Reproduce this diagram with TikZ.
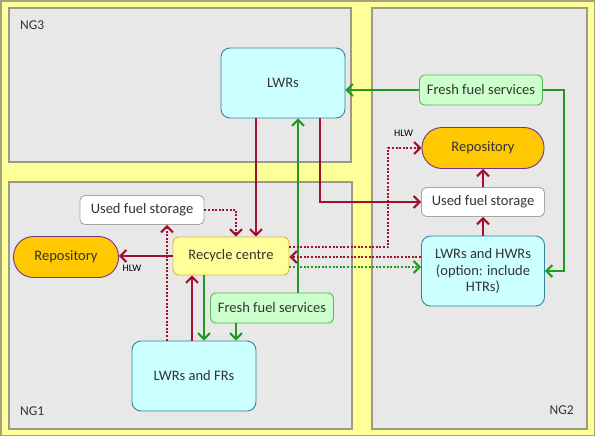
\documentclass[tikz,border=0pt]{standalone}
\usepackage{fontspec}
\setmainfont{Carlito}
\usetikzlibrary{arrows.meta}
\definecolor{yel}{HTML}{FFFF99}
\definecolor{yelbd}{HTML}{A3A37A}
\definecolor{regfill}{HTML}{E8E8E8}
\definecolor{regbd}{HTML}{9C9C84}
\definecolor{cyanfill}{HTML}{CCFFFF}
\definecolor{cyanbd}{HTML}{31849B}
\definecolor{grfill}{HTML}{CCFFCC}
\definecolor{grbd}{HTML}{55B855}
\definecolor{rcbd}{HTML}{E0B63A}
\definecolor{repfill}{HTML}{FFC800}
\definecolor{repbd}{HTML}{7A3090}
\definecolor{ufsbd}{HTML}{A6A6A6}
\definecolor{darkred}{HTML}{A3102E}
\definecolor{flowgreen}{HTML}{229A22}
\definecolor{txt}{HTML}{333333}
\tikzset{
  every node/.style={text=txt, font=\fontsize{14.5}{16.5}\selectfont, inner sep=0pt, align=center},
  region/.style={draw=regbd, fill=regfill, line width=1.3pt},
  reactor/.style={draw=cyanbd, fill=cyanfill, line width=0.9pt, rounded corners=9pt, minimum width=124pt, minimum height=70pt},
  freshbox/.style={draw=grbd, fill=grfill, line width=0.9pt, rounded corners=5pt, minimum width=123pt, minimum height=30pt},
  storebox/.style={draw=ufsbd, fill=white, line width=0.9pt, rounded corners=5pt, minimum width=124pt, minimum height=29pt},
  recbox/.style={draw=rcbd, fill=yel, line width=0.9pt, rounded corners=5pt, minimum width=116pt, minimum height=38pt},
  repbox/.style={draw=repbd, fill=repfill, line width=0.9pt, rounded corners=20pt, minimum height=41pt},
  regionlabel/.style={font=\fontsize{13.5}{15}\selectfont},
  hlw/.style={font=\fontsize{10}{12}\selectfont, text=black},
  redflow/.style={draw=darkred, line width=2pt, -{Straight Barb[length=6pt,width=12pt,line width=2pt]}},
  greenflow/.style={draw=flowgreen, line width=2pt, -{Straight Barb[length=6pt,width=12pt,line width=2pt]}},
  dotted flow/.style={dash pattern=on 2pt off 1.6pt},
}
\begin{document}
\begin{tikzpicture}[x=1pt,y=-1pt]
\useasboundingbox (0,0) rectangle (596,437);
% background
\draw[draw=yelbd, fill=yel, line width=1.2pt] (1,1) rectangle (594.5,435.5);
% regions
\draw[region] (9,8) rectangle (351,162);
\draw[region] (9,182) rectangle (352,429);
\draw[region] (372,8) rectangle (587,429);
\node[regionlabel, anchor=west] (ng3) at (20,25) {NG3};
\node[regionlabel, anchor=west] (ng1) at (20,411) {NG1};
\node[regionlabel, anchor=east] (ng2) at (574,410) {NG2};

% nodes
\node[reactor] (lwr) at (283,83) {LWRs};
\node[freshbox] (ffs2) at (481,90) {Fresh fuel services};
\node[repbox, minimum width=122pt] (rep2) at (483,148) {Repository};
\node[storebox, minimum width=123pt] (ufs2) at (483,202) {Used fuel storage};
\node[reactor, minimum width=123pt] (hwr) at (483,271) {LWRs and HWRs\\(option: include\\HTRs)};
\node[storebox] (ufs1) at (142,210) {Used fuel storage};
\node[repbox, minimum width=105pt] (rep1) at (66,257) {Repository};
\node[recbox] (rc) at (231,256) {Recycle centre};
\node[freshbox] (ffs1) at (272,308) {Fresh fuel services};
\node[reactor] (fr) at (194,376) {LWRs and FRs};

% NG3 / NG2 flows
\draw[greenflow] (ffs2.west) -- (ffs2.west -| lwr.east);
\draw[greenflow] (ffs2.east) -- ++(21,0) |- (hwr.east);
\draw[redflow] ([xshift=-27pt]lwr.south) -- ([xshift=25pt]rc.north);
\draw[redflow] ([xshift=37pt]lwr.south) |- (ufs2.west);
\draw[greenflow] ([xshift=26pt]ffs1.north) -- ([xshift=15pt]lwr.south);
\draw[redflow] (ufs2.north) -- (rep2.south);
\draw[redflow] (hwr.north) -- (ufs2.south);
\draw[redflow, dotted flow] ([yshift=9pt]rc.east) -- ++(99,0) |- (rep2.west);
\node[hlw] (hlw2) at ([xshift=-18pt,yshift=15pt]rep2.west) {HLW};
\draw[redflow, dotted flow] ([yshift=14pt]hwr.west) -- ([yshift=14pt]hwr.west -| rc.east);
\draw[greenflow, dotted flow] ([yshift=-11pt]rc.east) -- ([yshift=-11pt]rc.east -| hwr.west);

% NG1 flows
\draw[redflow, dotted flow] (ufs1.east) -| ([xshift=5pt]rc.north);
\draw[redflow] (rc.west) -- (rc.west -| rep1.east);
\node[hlw] (hlw1) at ([xshift=13pt,yshift=-11pt]rep1.east) {HLW};
\draw[redflow, dotted flow] ([xshift=-27pt]fr.north) -- ([xshift=-27pt]fr.north |- ufs1.south);
\draw[redflow] ([xshift=-2pt]fr.north) -- ([xshift=-2pt]fr.north |- rc.south);
\draw[greenflow] ([xshift=-27pt]rc.south) -- ([xshift=-27pt]rc.south |- fr.north);
\draw[greenflow] ([xshift=-36pt]ffs1.south) -- ([xshift=-36pt]ffs1.south |- fr.north);
\end{tikzpicture}
\end{document}
